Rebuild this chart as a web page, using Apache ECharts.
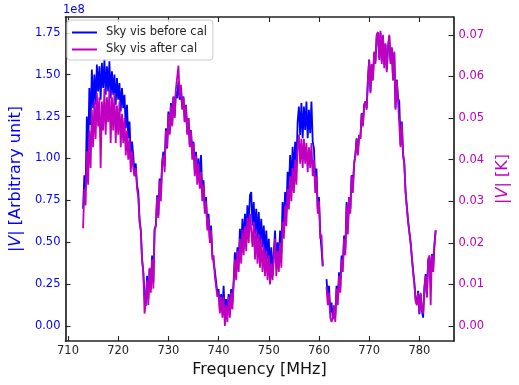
<!DOCTYPE html>
<html>
<head>
<meta charset="utf-8">
<script src="https://cdn.jsdelivr.net/npm/echarts@6/dist/echarts.min.js"></script>
<style>
html,body{margin:0;padding:0;background:#fff;}
#c{width:519px;height:385px;}
</style>
</head>
<body>
<div id="c"></div>
<script>
// Frequency grid (MHz): channels from 713.00 in 0.25 MHz steps
const freqStart = 713.0;
const freqStep = 0.25;

// Sky vis before cal (|V|, units of 1e8, arbitrary)
const beforeCal = [
  0.70, 0.90, 0.82, 1.25,   // 713
  1.00, 1.42, 1.20, 1.53,   // 714
  1.30, 1.50, 1.32, 1.56,   // 715
  1.40, 1.55, 1.35, 1.57,   // 716
  1.42, 1.59, 1.38, 1.55,   // 717
  1.40, 1.58, 1.36, 1.52,   // 718
  1.38, 1.50, 1.32, 1.48,   // 719
  1.35, 1.45, 1.28, 1.42,   // 720
  1.30, 1.38, 1.18, 1.32,   // 721
  1.12, 1.22, 1.02, 1.10,   // 722
  1.02, 0.90, 0.97, 0.84,   // 723
  0.80, 0.64, 0.57, 0.40,   // 724
  0.32, 0.18, 0.12, 0.30,   // 725
  0.16, 0.34, 0.22, 0.42,   // 726
  0.26, 0.58, 0.60, 0.78,   // 727
  0.66, 0.88, 0.78, 0.98,   // 728
  1.04, 0.95, 1.18, 1.06,   // 729
  1.28, 1.15, 1.33, 1.20,   // 730
  1.37, 1.25, 1.40, 1.36,   // 731
  1.46, 1.35, 1.42, 1.30,   // 732
  1.37, 1.22, 1.32, 1.15,   // 733
  1.24, 1.08, 1.17, 1.03,   // 734
  1.10, 0.93, 1.04, 0.90,   // 735
  1.00, 0.86, 1.02, 0.80,   // 736
  0.87, 0.70, 0.77, 0.60,   // 737
  0.67, 0.52, 0.60, 0.43,   // 738
  0.44, 0.33, 0.32, 0.20,   // 739
  0.22, 0.10, 0.19, 0.09,   // 740
  0.24, 0.07, 0.16, 0.09,   // 741
  0.19, 0.11, 0.22, 0.14,   // 742
  0.27, 0.44, 0.33, 0.47,   // 743
  0.38, 0.58, 0.45, 0.64,   // 744
  0.48, 0.67, 0.55, 0.72,   // 745
  0.60, 0.78, 0.80, 0.60,   // 746
  0.74, 0.55, 0.70, 0.52,   // 747
  0.68, 0.49, 0.64, 0.47,   // 748
  0.60, 0.42, 0.57, 0.40,   // 749
  0.52, 0.33, 0.47, 0.30,   // 750
  0.44, 0.57, 0.36, 0.50,   // 751
  0.38, 0.57, 0.43, 0.74,   // 752
  0.60, 0.80, 0.68, 0.92,   // 753
  0.80, 1.02, 0.83, 1.07,   // 754
  0.90, 1.10, 0.96, 1.22,   // 755
  1.31, 1.14, 1.33, 1.12,   // 756
  1.31, 1.17, 1.34, 1.12,   // 757
  1.29, 1.15, 1.34, 1.10,   // 758
  1.06, 0.86, 0.94, 0.70,   // 759
  0.77, 0.56, 0.57, 0.36,   // 760
  null, null, 0.28, 0.18,   // 761
  0.24, 0.08, 0.14, 0.04,   // 762
  0.12, 0.06, 0.24, 0.16,   // 763
  0.32, 0.23, 0.42, 0.36,   // 764
  0.54, 0.46, 0.74, 0.58,   // 765
  0.77, 0.70, 0.90, 0.83,   // 766
  0.97, 1.02, 1.12, 1.03,   // 767
  1.14, 1.12, 1.27, 1.20,   // 768
  1.32, 1.34, 1.30, 1.47,   // 769
  1.59, 1.40, 1.56, 1.48,   // 770
  1.63, 1.58, 1.73, 1.75,   // 771
  1.60, 1.75, 1.58, 1.73,   // 772
  1.56, 1.68, 1.53, 1.66,   // 773
  1.73, 1.58, 1.66, 1.48,   // 774
  1.63, 1.30, 1.47, 1.36,   // 775
  1.34, 1.08, 1.22, 1.03,   // 776
  0.97, 0.80, 0.80, 0.63,   // 777
  0.62, 0.50, 0.50, 0.33,   // 778
  0.26, 0.16, 0.13, 0.21,   // 779
  0.07, 0.19, 0.09, 0.05,   // 780
  0.23, 0.31, 0.17, 0.39,   // 781
  0.41, 0.26, 0.43, 0.34,   // 782
  0.49, 0.57                // 783
];

// Sky vis after cal (|V| in K)
const afterCal = [
  0.0235, 0.033, 0.029, 0.042,   // 713
  0.034, 0.047, 0.038, 0.052,    // 714
  0.043, 0.054, 0.045, 0.056,    // 715
  0.048, 0.055, 0.038, 0.054,    // 716
  0.047, 0.057, 0.046, 0.055,    // 717
  0.049, 0.057, 0.044, 0.055,    // 718
  0.047, 0.056, 0.044, 0.053,    // 719
  0.046, 0.054, 0.043, 0.051,    // 720
  0.044, 0.050, 0.041, 0.047,    // 721
  0.040, 0.045, 0.037, 0.042,    // 722
  0.038, 0.036, 0.038, 0.033,    // 723
  0.031, 0.025, 0.023, 0.016,    // 724
  0.013, 0.003, 0.006, 0.011,    // 725
  0.005, 0.014, 0.008, 0.016,    // 726
  0.009, 0.023, 0.024, 0.031,    // 727
  0.026, 0.035, 0.030, 0.039,    // 728
  0.041, 0.037, 0.047, 0.043,    // 729
  0.051, 0.046, 0.053, 0.048,    // 730
  0.055, 0.050, 0.057, 0.057,    // 731
  0.0626, 0.055, 0.058, 0.052,   // 732
  0.055, 0.049, 0.053, 0.046,    // 733
  0.050, 0.043, 0.047, 0.040,    // 734
  0.044, 0.036, 0.041, 0.034,    // 735
  0.039, 0.033, 0.037, 0.030,    // 736
  0.034, 0.027, 0.030, 0.023,    // 737
  0.026, 0.020, 0.023, 0.016,    // 738
  0.017, 0.012, 0.012, 0.007,    // 739
  0.008, 0.003, 0.007, 0.002,    // 740
  0.007, 0.000, 0.005, 0.001,    // 741
  0.007, 0.002, 0.008, 0.004,    // 742
  0.010, 0.016, 0.011, 0.018,    // 743
  0.013, 0.021, 0.015, 0.023,    // 744
  0.017, 0.024, 0.018, 0.026,    // 745
  0.020, 0.027, 0.023, 0.019,    // 746
  0.025, 0.016, 0.023, 0.015,    // 747
  0.022, 0.014, 0.021, 0.013,    // 748
  0.019, 0.012, 0.018, 0.011,    // 749
  0.017, 0.010, 0.015, 0.011,    // 750
  0.016, 0.021, 0.012, 0.018,    // 751
  0.013, 0.020, 0.014, 0.025,    // 752
  0.021, 0.029, 0.024, 0.033,    // 753
  0.028, 0.036, 0.030, 0.038,    // 754
  0.032, 0.040, 0.034, 0.043,    // 755
  0.046, 0.039, 0.045, 0.038,    // 756
  0.045, 0.039, 0.044, 0.037,    // 757
  0.043, 0.038, 0.044, 0.036,    // 758
  0.040, 0.032, 0.036, 0.027,    // 759
  0.030, 0.021, 0.022, 0.0143,   // 760
  null, null, 0.0094, 0.005,     // 761
  0.008, 0.002, 0.001, 0.002,    // 762
  0.005, 0.001, 0.009, 0.005,    // 763
  0.012, 0.008, 0.016, 0.013,    // 764
  0.021, 0.017, 0.029, 0.022,    // 765
  0.031, 0.027, 0.036, 0.032,    // 766
  0.039, 0.041, 0.045, 0.041,    // 767
  0.046, 0.045, 0.051, 0.048,    // 768
  0.053, 0.054, 0.052, 0.059,    // 769
  0.064, 0.056, 0.063, 0.059,    // 770
  0.066, 0.063, 0.070, 0.0707,   // 771
  0.064, 0.071, 0.063, 0.070,    // 772
  0.062, 0.068, 0.061, 0.067,    // 773
  0.0700, 0.063, 0.067, 0.059,   // 774
  0.066, 0.052, 0.059, 0.054,    // 775
  0.054, 0.043, 0.049, 0.041,    // 776
  0.039, 0.032, 0.032, 0.025,    // 777
  0.025, 0.020, 0.020, 0.013,    // 778
  0.010, 0.006, 0.005, 0.008,    // 779
  0.003, 0.008, 0.004, 0.003,    // 780
  0.009, 0.012, 0.007, 0.016,    // 781
  0.017, 0.005, 0.017, 0.013,    // 782
  0.019, 0.023                   // 783
];

// Tick values
const xTicks = [710, 720, 730, 740, 750, 760, 770, 780];
const leftTicks = [0, 0.25, 0.5, 0.75, 1.0, 1.25, 1.5, 1.75];
const rightTicks = [0, 0.01, 0.02, 0.03, 0.04, 0.05, 0.06, 0.07];

const seriesNames = ['Sky vis before cal', 'Sky vis after cal'];

function pairs(vals) {
  return vals.map((v, i) => [freqStart + i * freqStep, v === null ? '-' : v]);
}

const BLUE = '#0000ff';
const MAG = '#bf00bf';
const SPINE = '#222222';
const FONT = 'DejaVu Sans';

const chart = echarts.init(document.getElementById('c'), null, {renderer: 'canvas'});

const baseX = {
  type: 'value',
  min: 709.5,
  max: 786.8,
  splitLine: {show: false},
  axisLine: {show: true, onZero: false, lineStyle: {color: SPINE, width: 1.7}},
  axisTick: {show: true, inside: true, length: 5, customValues: xTicks, lineStyle: {color: SPINE, width: 1.1}}
};

chart.setOption({
  animation: false,
  backgroundColor: '#ffffff',
  grid: {left: 62, right: 52, top: 17, bottom: 44, containLabel: false},
  legend: {
    data: seriesNames.map(n => ({name: n, icon: 'rect'})),
    orient: 'vertical',
    left: 67,
    top: 20,
    padding: [6, 6, 4, 5],
    itemWidth: 25,
    itemHeight: 2,
    itemGap: 4,
    backgroundColor: 'rgba(255,255,255,0.8)',
    borderColor: '#cccccc',
    borderWidth: 1,
    borderRadius: 3,
    textStyle: {fontFamily: FONT, fontSize: 11.5, color: '#222', padding: [0, 0, 0, 4], lineHeight: 13}
  },
  xAxis: [
    Object.assign({}, baseX, {
      position: 'bottom',
      name: 'Frequency [MHz]',
      nameLocation: 'middle',
      nameGap: 19,
      nameTextStyle: {fontFamily: FONT, fontSize: 16, color: '#111'},
      axisLabel: {show: true, customValues: xTicks, margin: 4, fontFamily: FONT, fontSize: 11.5, color: '#222'}
    }),
    Object.assign({}, baseX, {
      position: 'top',
      axisLabel: {show: false}
    })
  ],
  yAxis: [
    {
      type: 'value',
      position: 'left',
      min: -0.0895,
      max: 1.844,
      splitLine: {show: false},
      axisLine: {show: true, onZero: false, lineStyle: {color: SPINE, width: 1.7}},
      axisTick: {show: true, inside: true, length: 5, customValues: leftTicks, lineStyle: {color: SPINE, width: 1.1}},
      axisLabel: {show: true, customValues: leftTicks, margin: 5, fontFamily: FONT, fontSize: 11.5, color: BLUE,
        formatter: v => v.toFixed(2)},
      name: '|{i|V}| [Arbitrary unit]',
      nameLocation: 'middle',
      nameRotate: 90,
      nameGap: 37,
      nameTextStyle: {fontFamily: FONT, fontSize: 16, color: BLUE,
        rich: {i: {fontFamily: FONT, fontSize: 16, fontStyle: 'italic', color: BLUE}}}
    },
    {
      type: 'value',
      position: 'right',
      min: -0.0036,
      max: 0.0743,
      splitLine: {show: false},
      axisLine: {show: true, onZero: false, lineStyle: {color: SPINE, width: 1.7}},
      axisTick: {show: true, inside: true, length: 5, customValues: rightTicks, lineStyle: {color: SPINE, width: 1.1}},
      axisLabel: {show: true, customValues: rightTicks, margin: 5, fontFamily: FONT, fontSize: 11.5, color: MAG,
        formatter: v => v.toFixed(2)},
      name: '|{i|V}| [K]',
      nameLocation: 'middle',
      nameRotate: 90,
      nameGap: 37,
      nameTextStyle: {fontFamily: FONT, fontSize: 16, color: MAG,
        rich: {i: {fontFamily: FONT, fontSize: 16, fontStyle: 'italic', color: MAG}}}
    }
  ],
  graphic: [
    {type: 'text', left: 63, top: 4, style: {text: '1e8', fontFamily: FONT, fontSize: 11.5, fill: BLUE}}
  ],
  series: [
    {
      name: seriesNames[0],
      type: 'line',
      xAxisIndex: 0,
      yAxisIndex: 0,
      data: pairs(beforeCal),
      symbol: 'none',
      showSymbol: false,
      connectNulls: false,
      lineStyle: {color: BLUE, width: 1.8},
      itemStyle: {color: BLUE},
      z: 2
    },
    {
      name: seriesNames[1],
      type: 'line',
      xAxisIndex: 0,
      yAxisIndex: 1,
      data: pairs(afterCal),
      symbol: 'none',
      showSymbol: false,
      connectNulls: false,
      lineStyle: {color: MAG, width: 1.8},
      itemStyle: {color: MAG},
      z: 3
    }
  ]
});
</script>
</body>
</html>
